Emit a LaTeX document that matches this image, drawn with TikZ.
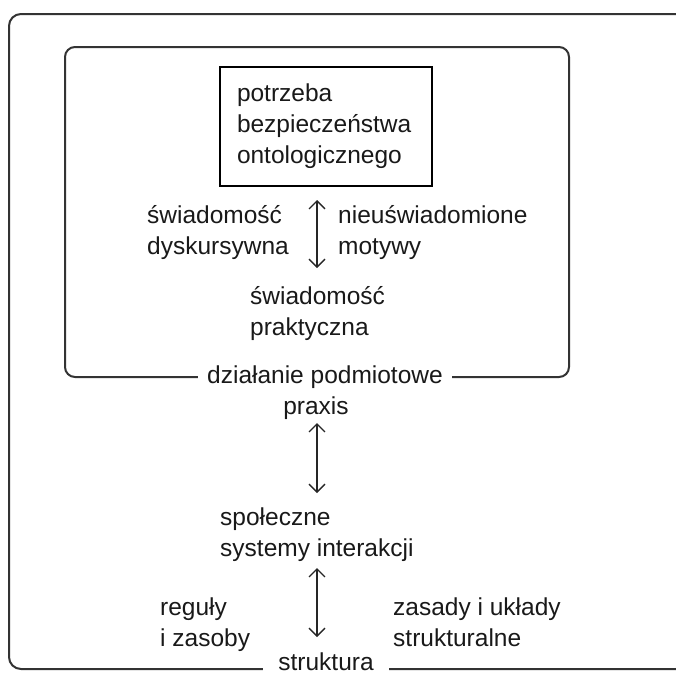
\documentclass[tikz,border=0pt]{standalone}
\usepackage{fontspec}
\setmainfont{Liberation Sans}
\usetikzlibrary{arrows.meta}
\begin{document}
\begin{tikzpicture}[x=1pt,y=-1pt,
  frame/.style={draw=black!80, line width=2pt, rounded corners=12pt},
  lbl/.style={inner sep=0pt, align=left, font=\fontsize{24.5}{31}\selectfont, text=black!90},
  gaplbl/.style={lbl, fill=white, inner xsep=9pt, inner ysep=1pt},
  biarrow/.style={draw=black!85, line width=1.3pt, {Straight Barb[length=8pt,width=16pt]}-{Straight Barb[length=8pt,width=16pt]}}]
\useasboundingbox (0,0) rectangle (676,675);
\clip (0,0) rectangle (676,675);
% outer frame (right side beyond the picture)
\draw[frame] (9,14) rectangle (688,669);
% inner rounded box
\draw[frame, rounded corners=10pt] (65,47) rectangle (569,377);
% boxed need
\node[lbl, draw=black, line width=2pt, minimum width=212pt, minimum height=119pt,
      text width=178pt, inner xsep=17pt, anchor=center] (need) at (326,126.5)
  {potrzeba\\bezpieczeństwa\\ontologicznego};
% side labels (base anchor = baseline of the last line)
\node[lbl, anchor=base west] (disc) at (147,254) {świadomość\\dyskursywna};
\node[lbl, anchor=base west] (unc) at (338,254) {nieuświadomione\\motywy};
\node[lbl, anchor=base west] (prac) at (250,335) {świadomość\\praktyczna};
% label on inner box bottom line
\node[gaplbl, anchor=center] (agency) at (325,377) {działanie podmiotowe};
\node[lbl, anchor=base] (praxis) at (316,414) {praxis};
\node[lbl, anchor=base west] (social) at (220,556) {społeczne\\systemy interakcji};
\node[lbl, anchor=base west] (rules) at (160,646) {reguły\\i zasoby};
\node[lbl, anchor=base west] (princ) at (393,646) {zasady i układy\\strukturalne};
\node[gaplbl, inner xsep=15pt, anchor=base] (struct) at (326,670) {struktura};
% arrow end points
\coordinate (a1t) at (317,200);
\coordinate (a1b) at (317,268);
\coordinate (a2t) at (317,423);
\coordinate (a2b) at (317,493);
\coordinate (a3t) at (317,568);
\coordinate (a3b) at (317,637);
\draw[biarrow] (a1t) -- (a1b);
\draw[biarrow] (a2t) -- (a2b);
\draw[biarrow] (a3t) -- (a3b);
\end{tikzpicture}
\end{document}
